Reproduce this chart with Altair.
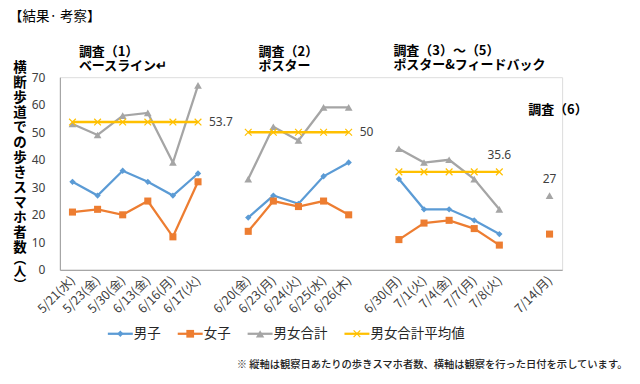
import altair as alt
import pandas as pd

# ---------------- data ----------------
dates = ["5/21(水)", "5/23(金)", "5/30(金)", "6/13(金)", "6/16(月)", "6/17(火)",
         "6/20(金)", "6/23(月)", "6/24(火)", "6/25(水)", "6/26(木)",
         "6/30(月)", "7/1(火)", "7/4(金)", "7/7(月)", "7/8(火)",
         "7/14(月)"]
groups = [1, 1, 1, 1, 1, 1, 2, 2, 2, 2, 2, 3, 3, 3, 3, 3, 4]
male = [32, 27, 36, 32, 27, 35, 19, 27, 24, 34, 39, 33, 22, 22, 18, 13, None]
female = [21, 22, 20, 25, 12, 32, 14, 25, 23, 25, 20, 11, 17, 18, 15, 9, 13]
total = [53, 49, 56, 57, 39, 67, 33, 52, 47, 59, 59, 44, 39, 40, 33, 22, 27]
avg_values = [53.7, 50, 35.6, 27]
avg_labels = ["53.7", "50", "35.6", "27"]
series_names = ["男子", "女子", "男女合計", "男女合計平均値"]
series_colors = ["#5B9BD5", "#ED7D31", "#A5A5A5", "#FFC000"]
group_titles = [["調査（1）", "ベースライン↵"], ["調査（2）", "ポスター"],
                ["調査（3）～（5）", "ポスター&フィードバック"], ["調査（6）"]]
y_title_main = list("横断歩道での歩きスマホ者数")
y_title_unit = ["︵", "人", "︶"]
page_title = "【結果· 考察】"
footnote = "※ 縦軸は観察日あたりの歩きスマホ者数、横軸は観察を行った日付を示しています。"
y_ticks = [0, 10, 20, 30, 40, 50, 60, 70]

JP = "Noto Sans CJK JP"

# x domain with blank slots between survey groups
x_domain = []
prev = None
gap_n = 0
for d, g in zip(dates, groups):
    if prev is not None and g != prev:
        gap_n += 1
        x_domain.append(f"_gap{gap_n}")
    x_domain.append(d)
    prev = g

rows = []
for i, (d, g) in enumerate(zip(dates, groups)):
    for name, vals in zip(series_names[:3], [male, female, total]):
        if vals[i] is not None:
            rows.append({"date": d, "group": g, "idx": i, "series": name, "value": vals[i]})
df = pd.DataFrame(rows)

avg_rows = []
for i, (d, g) in enumerate(zip(dates, groups)):
    if g <= 3:
        avg_rows.append({"date": d, "group": g, "idx": i, "value": avg_values[g - 1]})
df_avg = pd.DataFrame(avg_rows)

label_rows = []
for gi, (v, t) in enumerate(zip(avg_values, avg_labels)):
    last = [d for d, g in zip(dates, groups) if g == gi + 1][-1]
    label_rows.append({"date": last, "value": v, "label": t, "group": gi + 1})
df_lab = pd.DataFrame(label_rows)

one = pd.DataFrame({"k": [0]})

# ---------------- scales ----------------
xs = alt.Scale(type="point", domain=x_domain, padding=0.5)
ys = alt.Scale(domain=[0, 70], nice=False, zero=True)
X = alt.X("date:N", scale=xs, sort=x_domain,
          axis=alt.Axis(title=None, labelAngle=-45, labelAlign="right", labelBaseline="middle",
                        labelExpr="indexof(datum.label, '_gap') == 0 ? '' : datum.label",
                        ticks=False, grid=False, domainColor="#A6A6A6", domainWidth=1.2,
                        labelFont=JP, labelFontSize=12.5, labelColor="#404040",
                        labelPadding=8, labelOverlap=False))
Y = alt.Y("value:Q", scale=ys,
          axis=alt.Axis(title=None, values=y_ticks, ticks=False, grid=False,
                        domainColor="#A6A6A6", domainWidth=1.2, labelPadding=15,
                        labelFont="Noto Sans", labelFontSize=12, labelColor="#404040"))

col = alt.Color("series:N", scale=alt.Scale(domain=series_names[:3], range=series_colors[:3]), legend=None)
shp = alt.Shape("series:N", scale=alt.Scale(domain=series_names[:3],
                                            range=["diamond", "square", "triangle-up"]), legend=None)
sz = alt.Size("series:N", scale=alt.Scale(domain=series_names[:3], range=[40, 60, 70]), legend=None)

base = alt.Chart(df)
lines = base.mark_line(strokeWidth=2.25).encode(x=X, y=Y, color=col, detail="group:N",
                                                  order=alt.Order("idx:Q"))
points = base.mark_point(filled=True, opacity=1).encode(x=X, y=Y, color=col, shape=shp, size=sz)

XMARK = "M-1,-1L1,1M-1,1L1,-1"
avg_line = alt.Chart(df_avg).mark_line(strokeWidth=2.5, color=series_colors[3]).encode(
    x=X, y=Y, detail="group:N", order=alt.Order("idx:Q"))
avg_pts = alt.Chart(df_avg).mark_point(shape=XMARK, filled=False, color=series_colors[3],
                                       strokeWidth=1.2, size=45, opacity=1).encode(x=X, y=Y)

lab_right = alt.Chart(df_lab[df_lab["group"] <= 2]).mark_text(
    align="left", baseline="middle", dx=11, font="Noto Sans", fontSize=12, color="#404040"
).encode(x=X, y=Y, text="label:N")
lab_above = alt.Chart(df_lab[df_lab["group"] >= 3]).mark_text(
    align="center", baseline="middle", dy=-17, font="Noto Sans", fontSize=12, color="#404040"
).encode(x=X, y=Y, text="label:N")

# ---------------- annotations (pixel layout, relative to plot origin) ----------------
def txt(text, x, y, size=13, weight="normal", align="left", baseline="top", lh=None, font=JP, color="#000000"):
    kw = dict(text=text, align=align, baseline=baseline, fontSize=size, fontWeight=weight,
              font=font, color=color)
    if lh:
        kw["lineHeight"] = lh
    return alt.Chart(one).mark_text(**kw).encode(x=alt.value(x), y=alt.value(y))

title_pos = [(19, -31), (199, -31), (334, -32), (469, 27)]
ann = [txt(page_title, -51, -60, size=13.5, baseline="middle")]
for t, (tx, ty) in zip(group_titles, title_pos):
    ann.append(txt(t, tx, ty, size=13, weight="bold", lh=14))
ann.append(txt(y_title_main, -40, -16, size=13.5, weight="bold", align="center", lh=15))
ann.append(txt(y_title_unit, -40, 177, size=12.5, weight="bold", align="center", lh=12.5))
ann.append(txt(footnote, 177, 288, size=10.3, weight=500, baseline="middle", color="#222222"))

legend_x = [48, 118, 188, 285]
legend_shapes = ["diamond", "square", "triangle-up", XMARK]
legend_sizes = [40, 60, 70, 45]
ly = 257
for name, c, lx, s, ss in zip(series_names, series_colors, legend_x, legend_shapes, legend_sizes):
    ann.append(alt.Chart(one).mark_rule(color=c, strokeWidth=2.25).encode(
        x=alt.value(lx), x2=alt.value(lx + 25), y=alt.value(ly)))
    filled = s != XMARK
    ann.append(alt.Chart(one).mark_point(shape=s, filled=filled, color=c, size=ss, opacity=1,
                                         strokeWidth=1.2).encode(
        x=alt.value(lx + 12.5), y=alt.value(ly)))
    ann.append(txt(name, lx + 26, ly, size=13.5, baseline="middle", color="#262626"))

chart = alt.layer(lines, points, avg_line, avg_pts, lab_right, lab_above, *ann).properties(
    width=503, height=193,
    autosize=alt.AutoSizeParams(type="none"),
    padding={"left": 52, "top": 69, "right": 70, "bottom": 104},
).configure_view(stroke=None).configure(background="#FFFFFF")

chart.save("out.html", embed_options={"renderer": "svg", "actions": False})
